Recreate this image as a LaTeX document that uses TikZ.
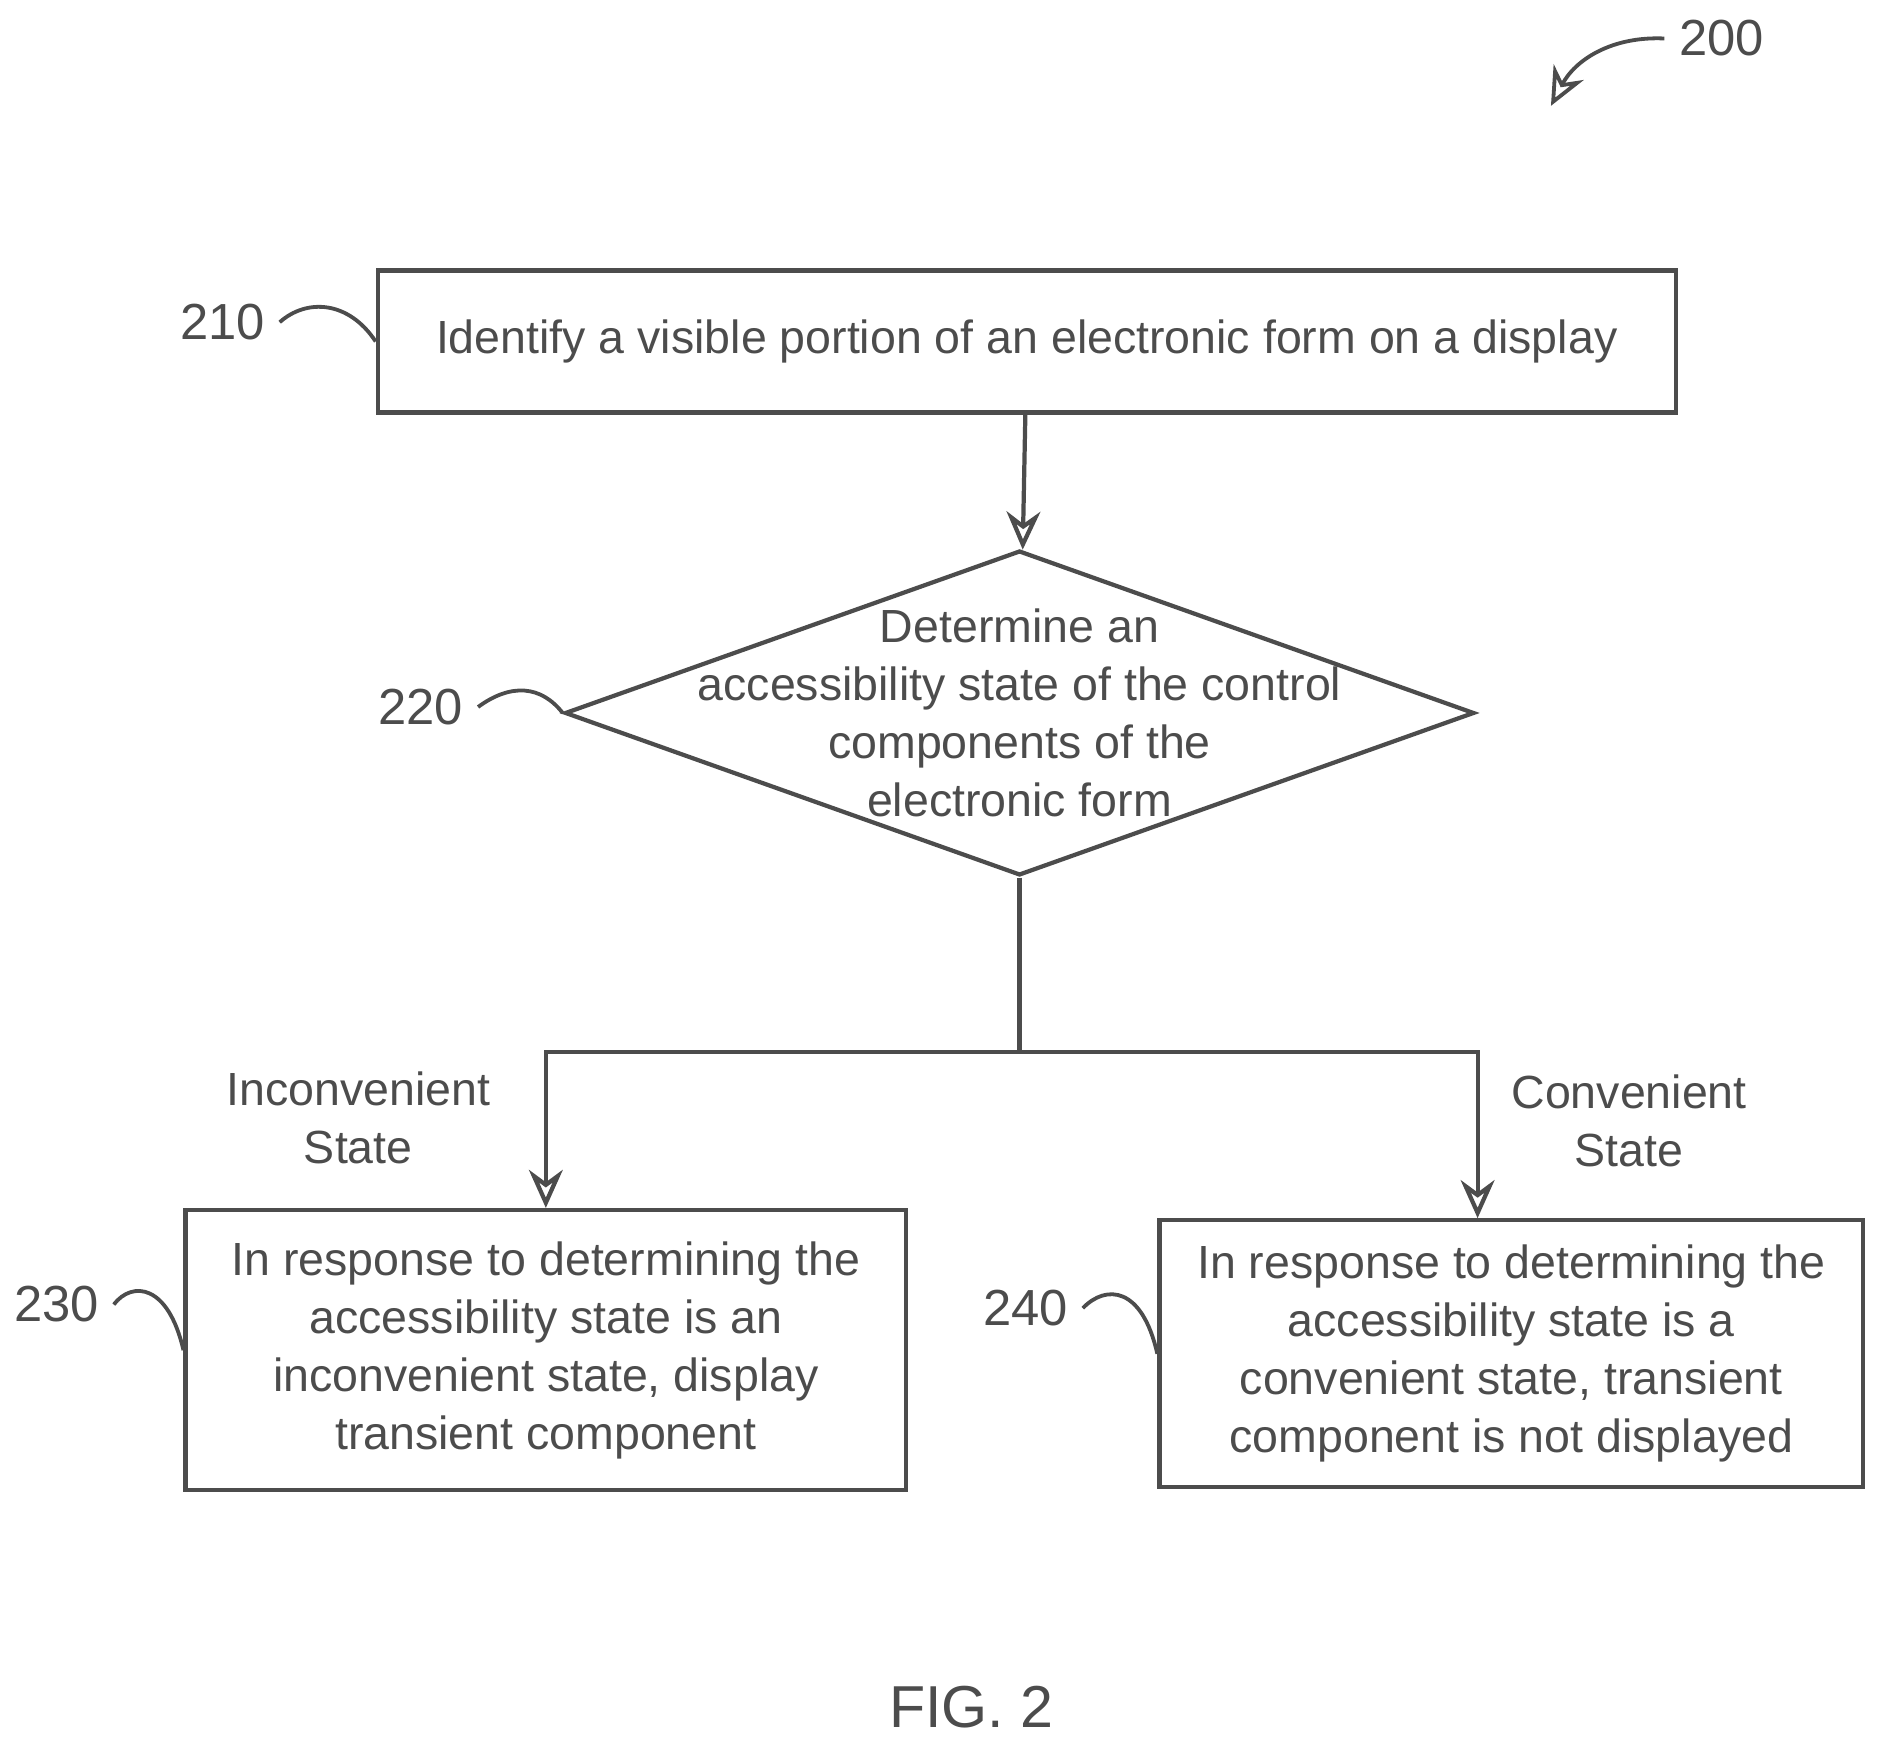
\documentclass[tikz,border=0pt]{standalone}
\usepackage{fontspec}
\setmainfont{Liberation Sans}
\usetikzlibrary{positioning,shapes.geometric,arrows.meta}
\definecolor{ink}{gray}{0.3}
\tikzset{
  procbox/.style={draw=ink, line width=1pt, text=ink, align=center, inner sep=0pt},
  flow/.style={draw=ink, line width=1pt, -{Stealth[open,length=9pt,width=8pt]}},
  lbl/.style={text=ink, font=\fontsize{12}{14}\selectfont},
  wave/.style={draw=ink, line width=0.9pt}
}
\begin{document}
\begin{tikzpicture}[x=0.01cm, y=-0.01cm, font=\fontsize{11}{13.7}\selectfont]
            \useasboundingbox (0,0) rectangle (1562,1447);

            % Steps
            \node[procbox, minimum width=10.79cm, minimum height=1.18cm] (s210) at (854,284)
              {Identify a visible portion of an electronic form on a display};
            \node[procbox, diamond, aspect=2.8, minimum width=7.56cm, minimum height=2.7cm] (s220) at (848,593) {};
            \node[text=ink, align=center] (t220) at (848,593)
              {Determine an\\accessibility state of the control\\components of the\\electronic form};
            \node[procbox, minimum width=5.99cm, minimum height=2.33cm] (s230) at (454,1123)
              {In response to determining the\\accessibility state is an\\inconvenient state, display\\transient component};
            \node[procbox, minimum width=5.85cm, minimum height=2.22cm] (s240) at (1257,1126)
              {In response to determining the\\accessibility state is a\\convenient state, transient\\component is not displayed};

            % Connectors
            \coordinate (split) at (848,875);
            \draw[flow] (s210) -- (s220);
            \draw[draw=ink, line width=1pt] (s220.south) -- (split);
            \draw[flow] (split) -| (s230.north);
            \draw[flow] (split) -| ([xshift=-0.28cm]s240.north);

            % Branch labels
            \node[text=ink, align=center] (lin) at (298,930) {Inconvenient\\State};
            \node[text=ink, align=center] (lcv) at (1355,932) {Convenient\\State};

            % Reference numerals
            \node[lbl] (n210) at (185,268) {210};
            \draw[wave] (n210.east) .. controls (255,248) and (290,250) .. (s210.west);
            \node[lbl] (n220) at (350,588) {220};
            \draw[wave] (n220.east) .. controls (425,568) and (450,570) .. (s220.west);
            \node[lbl] (n230) at (47,1085) {230};
            \draw[wave] (n230.east) .. controls (110,1065) and (140,1068) .. (s230.west);
            \node[lbl] (n240) at (853,1088) {240};
            \draw[wave] (n240.east) .. controls (920,1068) and (950,1070) .. (s240.west);

            \node[lbl] (n200) at (1432,32) {200};
            \coordinate (p200) at (1290,88);
            \draw[wave, -{Stealth[open,length=9pt,width=8pt]}] (n200.west) .. controls (1340,30) and (1310,50) .. (p200);

            \node[text=ink, font=\fontsize{14}{16}\selectfont] (fig) at (808,1420) {FIG. 2};
\end{tikzpicture}
\end{document}
